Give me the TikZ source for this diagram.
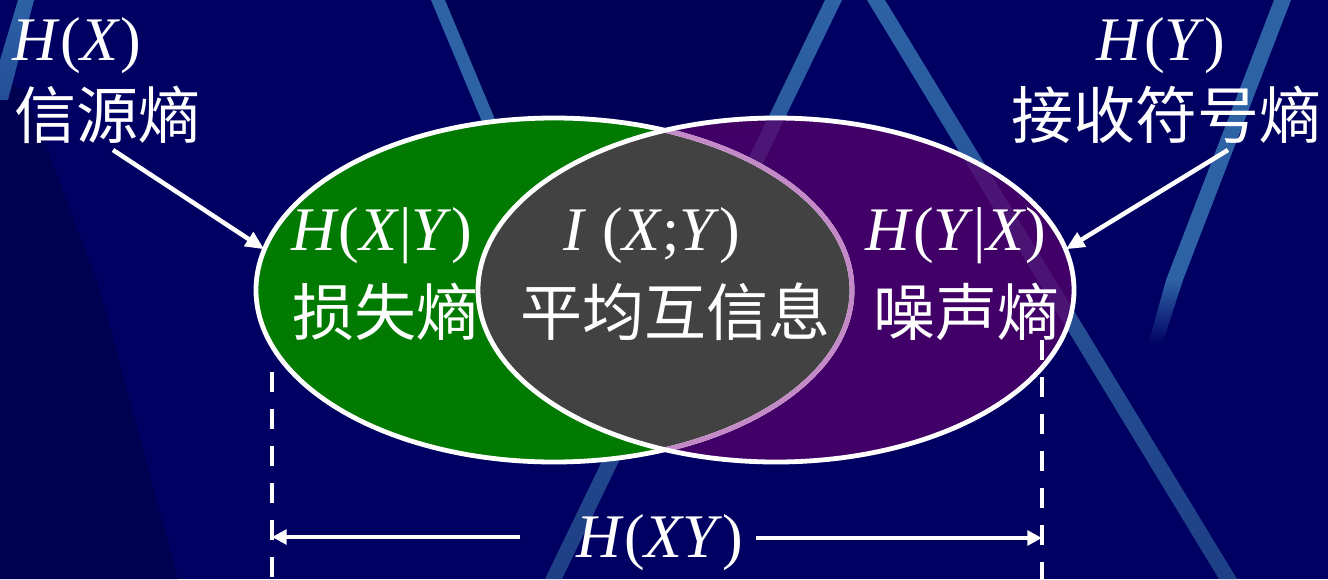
\documentclass[tikz,border=0pt]{standalone}
\usepackage{fontspec}
\setmainfont{Liberation Serif}
\newfontfamily\cjk{Noto Sans CJK SC}
\usetikzlibrary{shapes.geometric,arrows.meta}
\definecolor{bg}{HTML}{000062}
\definecolor{bgdark}{HTML}{000050}
\definecolor{stripe}{HTML}{2D62A5}
\definecolor{stripedark}{HTML}{1E3F85}
\definecolor{vgreen}{HTML}{007A00}
\definecolor{vpurple}{HTML}{580069}
\definecolor{vgray}{HTML}{424242}
\definecolor{lav}{HTML}{C48AC8}
\newcommand\myit[1]{\textit{#1}}
\begin{document}
\begin{tikzpicture}[x=0.75pt,y=-0.75pt,
  lbl/.style={text=white,inner sep=0pt,font=\fontsize{46.5pt}{52pt}\selectfont},
  cjklbl/.style={text=white,inner sep=0pt,font=\fontsize{46.5pt}{52pt}\selectfont\cjk},
  venn/.style={ellipse,minimum width=447pt,minimum height=258pt,inner sep=0pt},
  pointer/.style={draw=white,line width=3.4pt,-{Triangle[length=14pt,width=12pt]}},
  span/.style={draw=white,line width=3.4pt,-{Triangle[length=11pt,width=11pt]}},
  guide/.style={draw=white,line width=3.4pt,dash pattern=on 15pt off 12.75pt}]
\useasboundingbox (0,0) rectangle (1328,579);
% background
\fill[bg] (0,0) rectangle (1328,579);
\fill[bgdark] (0,80) -- (25,90) -- (100,290) -- (178,579) -- (0,579) -- cycle;
\fill[bgdark!60!bg] (445,0) -- (826,0) -- (770,130) -- (495,130) -- cycle;
% stripes
\shade[top color=stripe,bottom color=stripe!80!bg] (18,0) -- (34,0) -- (8,100) -- (0,100) -- (0,60) -- cycle;
\fill[stripe] (431,0) -- (445,0) -- (512,160) -- (498,160) -- cycle;
\shade[top color=stripe,bottom color=stripedark] (825,0) -- (842,0) -- (562,579) -- (545,579) -- cycle;
\shade[top color=stripe,bottom color=stripedark] (867,0) -- (885,0) -- (1237,579) -- (1219,579) -- cycle;
\fill[stripe] (1274,0) -- (1291,0) -- (1183,280) -- (1166,280) -- cycle;
\shade[top color=stripe,bottom color=bg] (1166,280) -- (1183,280) -- (1162,345) -- (1148,345) -- cycle;
% Venn ellipses
\node[venn,fill=vgreen] (eL) at (554,290) {};
\node[venn,fill=vpurple,fill opacity=0.75] (eR) at (776,290) {};
\begin{scope}
  \clip (554,290) ellipse [x radius=298,y radius=172];
  \fill[vgray] (776,290) ellipse [x radius=298,y radius=172];
\end{scope}
\draw[white,line width=3.6pt] (554,290) ellipse [x radius=298,y radius=172];
\begin{scope}
  \clip (776,290) ellipse [x radius=298,y radius=172];
  \draw[lav,line width=3.6pt] (554,290) ellipse [x radius=298,y radius=172];
\end{scope}
\draw[white,line width=3.6pt] (776,290) ellipse [x radius=298,y radius=172];
% labels
\node[lbl,anchor=base] (hx) at (77,60) {\myit{H}(\myit{X})};
\node[cjklbl] (srcl) at (107,115) {信源熵};
\node[lbl,anchor=base] (hy) at (1161,60) {\myit{H}(\myit{Y})};
\node[cjklbl] (rcvl) at (1166,115) {接收符号熵};
\node[lbl,anchor=base] (hxy) at (382,250) {\myit{H}(\myit{X}|\myit{Y})};
\node[cjklbl] (loss) at (385,312) {损失熵};
\node[lbl,anchor=base] (ixy) at (652,250) {\myit{I} (\myit{X};\myit{Y})};
\node[cjklbl] (mi) at (675,312) {平均互信息};
\node[lbl,anchor=base] (hyx) at (956,250) {\myit{H}(\myit{Y}|\myit{X})};
\node[cjklbl] (noise) at (966,312) {噪声熵};
\node[lbl,anchor=base] (joint) at (660,557) {\myit{H}(\myit{XY})};
% pointer arrows
\coordinate (pL) at (113,150);
\coordinate (pR) at (1228,150);
\draw[pointer] (pL) -- (eL.172);
\draw[pointer] (pR) -- (eR.8);
% dashed guides
\coordinate (gLt) at (272,372);
\coordinate (gLb) at (272,590);
\coordinate (gRt) at (1042,340);
\coordinate (gRb) at (1042,590);
\draw[guide] (gLt) -- (gLb);
\draw[guide] (gRt) -- (gRb);
% span arrows
\coordinate (sL) at (272,537);
\coordinate (sR) at (1042,538);
\draw[span] ([xshift=-42pt]joint.west |- sL) -- (sL);
\draw[span] ([xshift=9pt]joint.east |- sR) -- (sR);
\end{tikzpicture}
\end{document}
